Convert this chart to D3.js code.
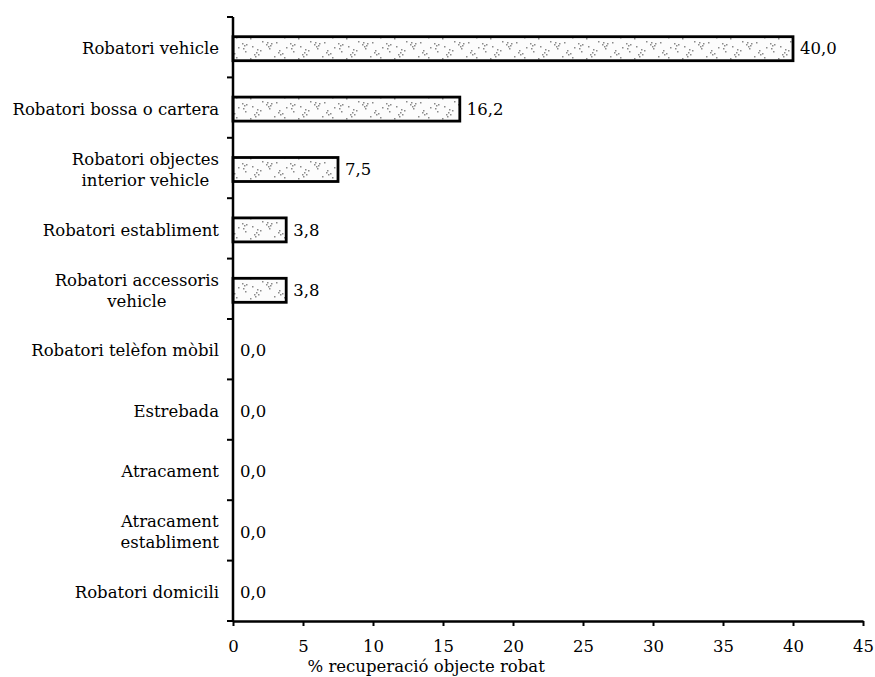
<!DOCTYPE html>
<html>
<head>
<meta charset="utf-8">
<script src="https://cdn.jsdelivr.net/npm/d3@7"></script>
<style>
  body { margin: 0; background: #fff; }
  svg text { font-family: "DejaVu Serif", serif; fill: #000; }
</style>
</head>
<body>
<svg id="chart" width="875" height="677"></svg>
<script>
// categories (multi-line labels split with |)
const categories = [
  "Robatori vehicle",
  "Robatori bossa o cartera",
  "Robatori objectes|interior vehicle",
  "Robatori establiment",
  "Robatori accessoris|vehicle",
  "Robatori telèfon mòbil",
  "Estrebada",
  "Atracament",
  "Atracament|establiment",
  "Robatori domicili"
];
const values = [40.0, 16.2, 7.5, 3.8, 3.8, 0.0, 0.0, 0.0, 0.0, 0.0];
const xTicks = [0, 5, 10, 15, 20, 25, 30, 35, 40, 45];
const xTitle = "% recuperació objecte robat";

const svg = d3.select("#chart");
const margin = {left: 233, top: 17, right: 12, bottom: 56};
const W = 875, H = 677;
const fs = 16.5;

const x = d3.scaleLinear().domain([0, 45]).range([margin.left, W - margin.right]);
const y = d3.scaleBand().domain(d3.range(categories.length))
    .range([margin.top, H - margin.bottom]);

const fmt = v => v.toFixed(1).replace(".", ",");

// speckle pattern for bar fill (sparse grey clusters on white)
const defs = svg.append("defs");
const pat = defs.append("pattern").attr("id", "speck")
    .attr("patternUnits", "userSpaceOnUse").attr("width", 48).attr("height", 20);
pat.append("rect").attr("width", 48).attr("height", 20).attr("fill", "#fcfcfc");
const dots = [[2,3],[4,5],[3,8],[6,4],[5,11],[14,14],[16,12],[15,16],[18,14],[17,9],
              [26,4],[28,6],[27,2],[30,5],[29,8],[31,3],[38,12],[40,14],[39,10],[42,13],
              [44,17],[10,18],[22,1],[34,16],[46,7],[12,6],[20,10],[36,2]];
pat.selectAll("rect.d").data(dots).enter().append("rect").attr("class", "d")
    .attr("x", d => d[0]).attr("y", d => d[1]).attr("width", 1.5).attr("height", 1.5)
    .attr("fill", "#8a8a8a");

const barH = 24;
const barOff = (y.bandwidth() - barH) / 2 + 1.5;

// bars
values.forEach((v, i) => {
  if (v <= 0) return;
  svg.append("rect").attr("class", "bar")
    .attr("x", x(0)).attr("y", y(i) + barOff)
    .attr("width", x(v) - x(0)).attr("height", barH)
    .attr("fill", "url(#speck)")
    .attr("stroke", "#000").attr("stroke-width", 2.8);
});

// value labels
svg.selectAll("text.val").data(values).enter().append("text")
  .attr("class", "val")
  .attr("x", d => x(d) + 7)
  .attr("y", (d, i) => y(i) + barOff + barH / 2)
  .attr("dy", "0.35em")
  .attr("font-size", fs)
  .text(fmt);

// x axis
const xAxis = d3.axisBottom(x).tickValues(xTicks).tickSize(5).tickSizeOuter(0).tickFormat(d => d);
const gx = svg.append("g").attr("transform", `translate(0,${H - margin.bottom})`).call(xAxis);
gx.select(".domain").attr("stroke-width", 2.5);
gx.selectAll(".tick line").attr("stroke-width", 2);
gx.selectAll(".tick text").attr("font-family", "DejaVu Serif").attr("font-size", fs)
  .attr("y", 19).attr("dy", "0.71em");

// y axis: line with ticks at band boundaries
const gy = svg.append("g");
gy.append("line").attr("x1", x(0)).attr("x2", x(0))
  .attr("y1", margin.top).attr("y2", H - margin.bottom)
  .attr("stroke", "#000").attr("stroke-width", 2.5);
const bounds = d3.range(categories.length + 1).map(i => margin.top + i * y.step());
gy.selectAll("line.t").data(bounds).enter().append("line").attr("class", "t")
  .attr("x1", x(0) - 6).attr("x2", x(0))
  .attr("y1", d => d).attr("y2", d => d)
  .attr("stroke", "#000").attr("stroke-width", 2);

// category labels, multi-line centered as a block, right aligned
const labelRight = x(0) - 14;
categories.forEach((c, i) => {
  const lines = c.split("|");
  const cy = y(i) + barOff + barH / 2;
  const lh = 21;
  const g = svg.append("g");
  const ts = lines.map((l, k) => g.append("text")
    .attr("font-size", fs)
    .attr("y", cy + (k - (lines.length - 1) / 2) * lh)
    .attr("dy", "0.35em")
    .attr("text-anchor", "middle")
    .text(l));
  const maxW = d3.max(ts, t => t.node().getComputedTextLength());
  ts.forEach(t => t.attr("x", labelRight - maxW / 2));
});

// x title
svg.append("text").attr("x", x(13.8)).attr("y", H - 5)
  .attr("text-anchor", "middle").attr("font-size", fs).text(xTitle);
</script>
</body>
</html>
